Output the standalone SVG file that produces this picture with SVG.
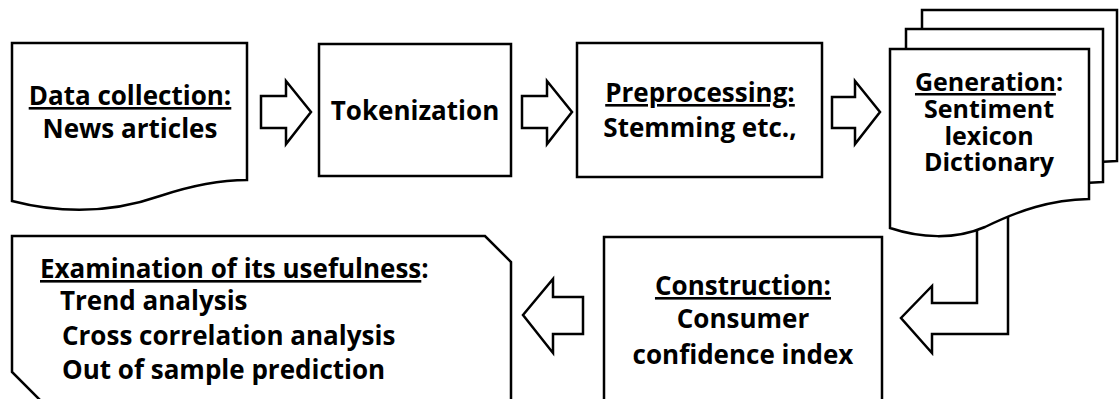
<svg xmlns="http://www.w3.org/2000/svg" width="1120" height="399" viewBox="0 0 1120 399">
<style>
.s{fill:#fff;stroke:#000;stroke-width:2.5;stroke-linejoin:miter}
.t{font-family:"Open Sans","Noto Sans","Liberation Sans",sans-serif;font-weight:bold;font-size:26px;fill:#000}
.g{font-size:25px}
.c{text-anchor:middle}
.u{text-decoration:underline}
</style>
<rect width="1120" height="399" fill="#fff"/>
<g id="connectors">
<polygon class="s" points="261,96 286,96 286,81 311,112 286,144 286,128 261,128"/>
<polygon class="s" points="522,96 547,96 547,81 572,112 547,144 547,128 522,128"/>
<polygon class="s" points="832,97 855,97 855,81 880,112 855,144 855,128 832,128"/>
<polygon class="s" points="977,200 977,303 932,303 932,286 901,318 932,353 932,334 1008,334 1008,200"/>
<polygon class="s" points="583,297 553,297 553,279 523,315 553,353 553,334 583,334"/>
</g>
<g id="data-collection">
<path class="s" d="M12,43 H247 V180 C220,180 190,186 160,196 C120,210 70,216 12,201 Z"/>
<text class="t c" x="130" y="105"><tspan class="u">Data collection:</tspan></text>
<text class="t c" x="130" y="138">News articles</text>
</g>
<g id="tokenization">
<rect class="s" x="319" y="44" width="192" height="132"/>
<text class="t c" x="415" y="120">Tokenization</text>
</g>
<g id="preprocessing">
<rect class="s" x="577" y="43" width="245" height="134"/>
<text class="t c" x="700" y="102"><tspan class="u">Preprocessing:</tspan></text>
<text class="t c" x="700" y="137">Stemming etc.,</text>
</g>
<g id="generation">
<path class="s" d="M922,10 H1117 V161 C1078,162 1048,172 1013,189 C983,202 948,200 922,190 Z"/>
<path class="s" d="M906,29 H1103 V182 C1064,183 1034,193 999,209 C969,222 934,220 906,210 Z"/>
<path class="s" d="M890,49 H1089 V199 C1050,200 1020,210 985,227 C955,240 920,238 890,228 Z"/>
<text class="t g c" x="989" y="91"><tspan class="u">Generation</tspan>:</text>
<text class="t g c" x="989" y="118">Sentiment</text>
<text class="t g c" x="989" y="145">lexicon</text>
<text class="t g c" x="989" y="171">Dictionary</text>
</g>
<g id="construction">
<rect class="s" x="604" y="237" width="278" height="180"/>
<text class="t c" x="743" y="295"><tspan class="u">Construction:</tspan></text>
<text class="t c" x="743" y="328">Consumer</text>
<text class="t c" x="743" y="364">confidence index</text>
</g>
<g id="examination">
<polygon class="s" points="12,236 485,236 511,262 511,420 60,420 12,372"/>
<text class="t" x="40" y="278"><tspan class="u">Examination of its usefulness</tspan>:</text>
<text class="t" x="60" y="310">Trend analysis</text>
<text class="t" x="62" y="345">Cross correlation analysis</text>
<text class="t" x="62" y="379">Out of sample prediction</text>
</g>
</svg>
